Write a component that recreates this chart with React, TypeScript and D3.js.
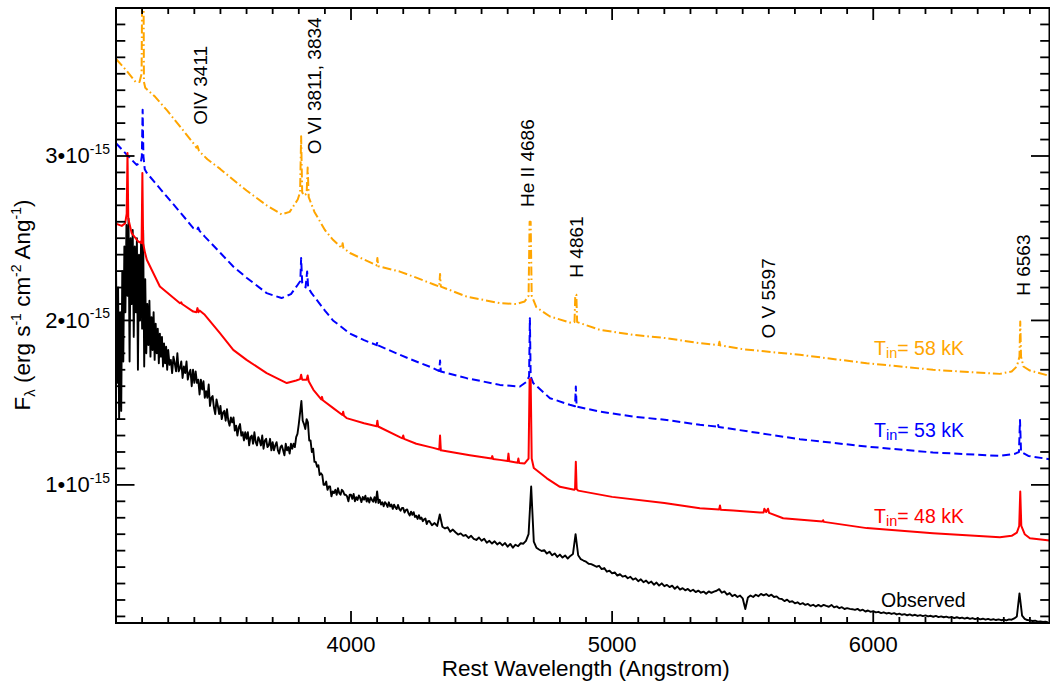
import React from 'react';
import * as d3 from 'd3';

// observed spectrum, flux in 1e-15 erg/s/cm2/A
// blue end (very noisy), 4 A grid from 3100 A
const obsBlueStart = 3100;
const obsBlueStep = 4;
const obsBlue = [
  2.35, 1.62, 2.2, 1.4, 2.05, 1.45, 2.3, 1.75, 2.45, 2.05,
  2.58, 2.15, 2.62, 1.75, 2.5, 2.1, 2.55, 1.9, 2.45, 2.05,
  2.5, 1.7, 2.4, 2.0, 2.48, 1.95, 2.55, 1.72, 2.25, 1.8,
  2.1, 1.85, 2.12, 1.78, 2.02, 1.82, 2.05, 1.76, 1.98, 1.8,
  1.95, 1.74, 1.92, 1.78, 1.9, 1.72, 1.86, 1.74, 1.84, 1.7,
];

// middle part, 5 A grid from 3300 A
const obsMidStart = 3300;
const obsMidStep = 5;
const obsMid = [
  1.82, 1.73, 1.76, 1.68, 1.78, 1.74, 1.69, 1.8, 1.69, 1.71,
  1.75, 1.65, 1.72, 1.68, 1.75, 1.64, 1.68, 1.7, 1.6, 1.7,
  1.62, 1.69, 1.62, 1.64, 1.55, 1.64, 1.58, 1.63, 1.53, 1.57,
  1.53, 1.61, 1.48, 1.53, 1.54, 1.47, 1.43, 1.52, 1.48, 1.43,
  1.48, 1.4, 1.44, 1.45, 1.39, 1.46, 1.39, 1.36, 1.41, 1.38,
  1.41, 1.33, 1.36, 1.3, 1.35, 1.37, 1.3, 1.32, 1.27, 1.32,
  1.28, 1.32, 1.24, 1.29, 1.3, 1.25, 1.32, 1.26, 1.24, 1.29,
  1.27, 1.24, 1.3, 1.22, 1.27, 1.28, 1.23, 1.24, 1.28, 1.21,
  1.26, 1.21, 1.24, 1.26, 1.21, 1.19, 1.23, 1.24, 1.21, 1.18,
  1.25, 1.21, 1.23, 1.19, 1.25, 1.22, 1.25, 1.23, 1.29, 1.31,
  1.37, 1.44, 1.51, 1.39, 1.37, 1.34, 1.4, 1.38, 1.27, 1.27,
  1.2, 1.22, 1.14, 1.14, 1.11, 1.12, 1.06, 1.07, 1.06, 1.0,
  1.0, 1.02, 0.97, 0.99, 0.99, 0.93, 0.96, 0.95, 0.97, 0.94,
  0.98, 0.95, 0.94, 0.97, 0.96, 0.94, 0.94, 0.93, 0.9, 0.94,
  0.94, 0.915, 0.945, 0.9, 0.925, 0.908, 0.936, 0.92, 0.895, 0.926,
  0.91, 0.934, 0.898, 0.92, 0.893, 0.923, 0.909, 0.898, 0.925, 0.893,
  0.96, 0.89, 0.909, 0.88, 0.894, 0.87, 0.895, 0.885, 0.866, 0.894,
  0.869, 0.88, 0.854, 0.88, 0.863, 0.853, 0.878, 0.854, 0.843, 0.859,
  0.859, 0.832, 0.847, 0.851, 0.827, 0.814, 0.837, 0.818, 0.834, 0.805,
  0.812, 0.793, 0.816, 0.793, 0.801, 0.779, 0.79, 0.795, 0.762, 0.779,
];

// red part, 10 A grid from 4300 A
const obsRedStart = 4300;
const obsRedStep = 10;
const obsRed = [
  0.78, 0.755, 0.768, 0.75, 0.82, 0.745, 0.735, 0.742, 0.715, 0.728,
  0.712, 0.698, 0.705, 0.69, 0.695, 0.677, 0.69, 0.672, 0.665, 0.68,
  0.66, 0.672, 0.648, 0.66, 0.643, 0.657, 0.638, 0.649, 0.632, 0.646,
  0.624, 0.641, 0.618, 0.636, 0.627, 0.645, 0.642, 0.66, 0.7, 0.99,
  0.655, 0.618, 0.607, 0.598, 0.603, 0.582, 0.594, 0.572, 0.583, 0.562,
  0.576, 0.558, 0.571, 0.552, 0.568, 0.58, 0.7, 0.572, 0.548, 0.54,
  0.533, 0.52, 0.518, 0.51, 0.502, 0.508, 0.488, 0.494, 0.472, 0.478,
  0.462, 0.468, 0.448, 0.457, 0.442, 0.447, 0.432, 0.441, 0.424, 0.432,
  0.414, 0.426, 0.408, 0.418, 0.402, 0.412, 0.393, 0.406, 0.388, 0.401,
  0.384, 0.392, 0.378, 0.387, 0.368, 0.382, 0.363, 0.372, 0.359, 0.367,
  0.353, 0.362, 0.348, 0.357, 0.344, 0.351, 0.338, 0.352, 0.343, 0.351,
  0.356, 0.366, 0.344, 0.352, 0.333, 0.342, 0.323, 0.332, 0.318, 0.327,
  0.31, 0.245, 0.315, 0.327, 0.318, 0.332, 0.323, 0.337, 0.328, 0.336,
  0.324, 0.332, 0.318, 0.322, 0.308, 0.306, 0.293, 0.302, 0.288, 0.292,
  0.28, 0.286, 0.274, 0.281, 0.27, 0.276, 0.264, 0.271, 0.26, 0.27,
  0.26, 0.27, 0.264, 0.259, 0.27, 0.255, 0.261, 0.25, 0.256, 0.245,
  0.25, 0.246, 0.244, 0.24, 0.246, 0.235, 0.241, 0.23, 0.236, 0.228,
  0.232, 0.225, 0.228, 0.22, 0.225, 0.218, 0.222, 0.215, 0.22, 0.212,
  0.217, 0.21, 0.214, 0.207, 0.212, 0.205, 0.21, 0.203, 0.208, 0.202,
  0.206, 0.2, 0.204, 0.198, 0.203, 0.196, 0.2, 0.195, 0.199, 0.193,
  0.197, 0.19, 0.195, 0.189, 0.193, 0.187, 0.192, 0.185, 0.19, 0.184,
  0.188, 0.182, 0.186, 0.18, 0.185, 0.179, 0.183, 0.178, 0.182, 0.177,
  0.181, 0.176, 0.182, 0.18, 0.188, 0.2, 0.34, 0.205, 0.185, 0.178,
  0.176, 0.172, 0.174, 0.168, 0.17, 0.166, 0.168, 0.164,
];

// model spectra [wavelength A, flux 1e-15]
const model58 = [
  [3100, 3.59], [3140, 3.52], [3175, 3.45], [3190, 3.45], [3198, 3.5], [3201, 4.2], [3205, 4.2],
  [3207, 3.45], [3212, 3.415], [3250, 3.36], [3294, 3.28], [3350, 3.17], [3400, 3.07], [3408, 3.05],
  [3412, 3.06], [3418, 3.03], [3450, 2.98], [3500, 2.92], [3549, 2.855], [3600, 2.79], [3677, 2.7],
  [3734, 2.645], [3765, 2.66], [3796, 2.735], [3805, 2.78], [3809, 3.12], [3813, 2.78], [3820, 2.76],
  [3830, 2.77], [3834, 2.93], [3838, 2.75], [3860, 2.66], [3900, 2.55], [3931, 2.49], [3965, 2.44],
  [3968, 2.47], [3971, 2.44], [3996, 2.41], [4050, 2.37], [4098, 2.335], [4101, 2.38], [4104, 2.33],
  [4187, 2.297], [4250, 2.26], [4315, 2.22], [4338, 2.206], [4341, 2.283], [4344, 2.206], [4443, 2.145],
  [4570, 2.105], [4634, 2.1], [4665, 2.115], [4680, 2.15], [4684, 2.6], [4688, 2.6], [4692, 2.15],
  [4710, 2.08], [4762, 2.024], [4838, 1.987], [4856, 1.99], [4859, 2.156], [4863, 2.156], [4866, 1.99],
  [4953, 1.943], [5081, 1.912], [5209, 1.892], [5336, 1.862], [5408, 1.85], [5411, 1.87], [5414, 1.848],
  [5500, 1.825], [5719, 1.791], [5975, 1.74], [6229, 1.7], [6485, 1.675], [6530, 1.69], [6550, 1.72],
  [6560, 1.78], [6563, 1.993], [6566, 1.78], [6575, 1.72], [6600, 1.695], [6675, 1.663],
];

const model53 = [
  [3100, 3.078], [3140, 3.01], [3179, 2.946], [3195, 2.96], [3199, 3.0], [3202, 3.281], [3205, 3.0],
  [3210, 2.92], [3218, 2.897], [3294, 2.754], [3350, 2.65], [3396, 2.561], [3410, 2.55], [3415, 2.565],
  [3420, 2.545], [3440, 2.51], [3500, 2.41], [3549, 2.328], [3600, 2.26], [3677, 2.166], [3734, 2.136],
  [3770, 2.16], [3796, 2.217], [3806, 2.24], [3809, 2.379], [3813, 2.23], [3826, 2.2], [3832, 2.297],
  [3836, 2.2], [3849, 2.166], [3900, 2.06], [3931, 2.0], [3996, 1.92], [4050, 1.88], [4098, 1.85],
  [4101, 1.87], [4104, 1.848], [4187, 1.791], [4250, 1.75], [4315, 1.71], [4338, 1.692], [4341, 1.756],
  [4344, 1.689], [4443, 1.649], [4570, 1.608], [4647, 1.598], [4673, 1.628], [4682, 1.66], [4685, 2.014],
  [4688, 1.66], [4698, 1.619], [4762, 1.527], [4838, 1.487], [4858, 1.478], [4861, 1.598], [4864, 1.476],
  [4953, 1.446], [5081, 1.415], [5209, 1.395], [5336, 1.365], [5402, 1.355], [5405, 1.37], [5408, 1.352],
  [5719, 1.278], [5975, 1.233], [6229, 1.197], [6485, 1.176], [6542, 1.189], [6558, 1.2], [6562, 1.395],
  [6566, 1.2], [6594, 1.176], [6675, 1.156],
];

const model48 = [
  [3100, 2.588], [3122, 2.575], [3135, 2.59], [3141, 2.65], [3144, 3.018], [3147, 2.62], [3160, 2.531],
  [3185, 2.48], [3198, 2.47], [3201, 2.896], [3204, 2.47], [3210, 2.42], [3218, 2.369], [3268, 2.206],
  [3345, 2.105], [3350, 2.11], [3353, 2.1], [3396, 2.054], [3408, 2.05], [3412, 2.075], [3416, 2.05],
  [3420, 2.06], [3440, 2.034], [3498, 1.923], [3549, 1.821], [3600, 1.76], [3677, 1.68], [3754, 1.619],
  [3790, 1.635], [3805, 1.643], [3809, 1.67], [3813, 1.64], [3830, 1.64], [3834, 1.665], [3838, 1.63],
  [3856, 1.578], [3886, 1.52], [3889, 1.535], [3892, 1.515], [3932, 1.467], [3967, 1.425], [3970, 1.445],
  [3973, 1.42], [3983, 1.406], [4050, 1.375], [4098, 1.357], [4101, 1.39], [4104, 1.355], [4187, 1.29],
  [4197, 1.283], [4200, 1.3], [4203, 1.28], [4250, 1.25], [4315, 1.225], [4338, 1.215], [4341, 1.3],
  [4344, 1.21], [4455, 1.18], [4538, 1.16], [4541, 1.175], [4544, 1.158], [4570, 1.152], [4600, 1.145],
  [4603, 1.19], [4606, 1.143], [4638, 1.135], [4641, 1.16], [4644, 1.133], [4665, 1.13], [4680, 1.16],
  [4684, 1.643], [4688, 1.643], [4692, 1.16], [4700, 1.103], [4750, 1.04], [4800, 0.988], [4855, 0.97],
  [4858, 0.975], [4861, 1.14], [4864, 0.975], [4870, 0.965], [5000, 0.927], [5200, 0.89], [5336, 0.858],
  [5410, 0.85], [5413, 0.875], [5416, 0.848], [5464, 0.844], [5566, 0.832], [5580, 0.832], [5583, 0.855],
  [5590, 0.835], [5597, 0.855], [5601, 0.83], [5655, 0.797], [5805, 0.777], [5808, 0.785], [5811, 0.775],
  [5975, 0.737], [6229, 0.706], [6485, 0.682], [6530, 0.69], [6550, 0.71], [6559, 0.75], [6563, 0.959],
  [6567, 0.75], [6580, 0.7], [6600, 0.675], [6675, 0.661],
];

const xTickLabels = [4000, 5000, 6000];
const yTickLabels = [1, 2, 3];

// line identifications: label, anchor wavelength and flux (bottom end of the rotated text)
const lineIds = [
  { text: 'OIV 3411', wave: 3448, flux: 3.19 },
  { text: 'O VI 3811, 3834', wave: 3885, flux: 3.01 },
  { text: 'He II 4686', wave: 4701, flux: 2.69 },
  { text: 'H 4861', wave: 4888, flux: 2.26 },
  { text: 'O V 5597', wave: 5624, flux: 1.89 },
  { text: 'H 6563', wave: 6600, flux: 2.15 },
];

const modelTemps = ['58 kK', '53 kK', '48 kK'];
const modelLabelWave = 6003;
const modelLabelFlux = [1.79, 1.291, 0.768];
const obsLabel = { text: 'Observed', wave: 6030, flux: 0.257 };

const ORANGE = '#ffa500';
const BLUE = '#0000ff';
const RED = '#ff0000';
const FONT = '"Liberation Sans", Arial, Helvetica, sans-serif';

export default function App() {
  const left = 116, right = 1049.5, top = 8, bottom = 623;
  const x = d3.scaleLinear().domain([3100, 6675]).range([left, right]);
  const y = d3.scaleLinear().domain([0.16, 3.9]).range([bottom, top]);
  const line = d3.line<number[]>().x(d => x(d[0])).y(d => y(d[1]));

  const observed = [
    ...obsBlue.map((f, i) => [obsBlueStart + i * obsBlueStep, f]),
    ...obsMid.map((f, i) => [obsMidStart + i * obsMidStep, f]),
    ...obsRed.map((f, i) => [obsRedStart + i * obsRedStep, f]),
  ];

  const xMinor = d3.range(3200, 6700, 100).filter(v => v % 1000 !== 0);
  const yMinor = d3.range(2, 40).map(v => v / 10).filter(v => Math.abs(v - Math.round(v)) > 0.01);
  const xMajLen = 12, xMinLen = 6, yMajLen = 18.5, yMinLen = 9.3;

  const models = [
    { data: model58, color: ORANGE, dash: '9 3 1.6 3' },
    { data: model53, color: BLUE, dash: '8 4' },
    { data: model48, color: RED, dash: undefined },
  ];

  return (
    <div style={{ position: 'absolute', left: 0, top: 0 }}>
      <svg width={1050} height={687} style={{ display: 'block', background: '#fff' }} fontFamily={FONT}>
        <defs>
          <clipPath id="plotclip">
            <rect x={left} y={top} width={right - left} height={bottom - top} />
          </clipPath>
        </defs>

        <g clipPath="url(#plotclip)" fill="none" strokeLinejoin="round">
          <path d={line(observed) || ''} stroke="#000" strokeWidth={1.9} />
          {models.map((m, i) => (
            <path key={i} d={line(m.data) || ''} stroke={m.color} strokeWidth={2} strokeDasharray={m.dash} />
          ))}
        </g>

        {/* frame */}
        <rect x={left} y={top} width={right - left} height={bottom - top} fill="none" stroke="#000" strokeWidth={2} />

        {/* ticks on all four sides */}
        <g stroke="#000" strokeWidth={1.8}>
          {xTickLabels.map(v => (
            <g key={'xm' + v}>
              <line x1={x(v)} x2={x(v)} y1={bottom} y2={bottom - xMajLen} />
              <line x1={x(v)} x2={x(v)} y1={top} y2={top + xMajLen} />
            </g>
          ))}
          {xMinor.map(v => (
            <g key={'xn' + v}>
              <line x1={x(v)} x2={x(v)} y1={bottom} y2={bottom - xMinLen} />
              <line x1={x(v)} x2={x(v)} y1={top} y2={top + xMinLen} />
            </g>
          ))}
          {yTickLabels.map(v => (
            <g key={'ym' + v}>
              <line x1={left} x2={left + yMajLen} y1={y(v)} y2={y(v)} />
              <line x1={right} x2={right - yMajLen} y1={y(v)} y2={y(v)} />
            </g>
          ))}
          {yMinor.map(v => (
            <g key={'yn' + v}>
              <line x1={left} x2={left + yMinLen} y1={y(v)} y2={y(v)} />
              <line x1={right} x2={right - yMinLen} y1={y(v)} y2={y(v)} />
            </g>
          ))}
        </g>

        {/* tick labels */}
        <g fontSize={22} fill="#000">
          {xTickLabels.map(v => (
            <text key={'xl' + v} x={x(v)} y={652} textAnchor="middle">{v}</text>
          ))}
          {yTickLabels.map(v => (
            <text key={'yl' + v} x={110} y={y(v) + 7.5} textAnchor="end">
              {v}•10<tspan fontSize={14} dy={-9.5}>-15</tspan>
            </text>
          ))}
        </g>

        {/* axis titles */}
        <text x={(left + right) / 2 + 3} y={676} textAnchor="middle" fontSize={22.5}>Rest Wavelength (Angstrom)</text>
        <text transform={`translate(30,${305}) rotate(-90)`} textAnchor="middle" fontSize={22.5}>
          F<tspan fontSize={15} dy={5}>λ</tspan>
          <tspan dy={-5}> (erg s</tspan><tspan fontSize={14} dy={-9}>-1</tspan>
          <tspan dy={9}> cm</tspan><tspan fontSize={14} dy={-9}>-2</tspan>
          <tspan dy={9}> Ang</tspan><tspan fontSize={14} dy={-9}>-1</tspan>
          <tspan dy={9}>)</tspan>
        </text>

        {/* line identifications */}
        <g fontSize={19} fill="#000">
          {lineIds.map(l => (
            <text key={l.text} transform={`translate(${x(l.wave)},${y(l.flux)}) rotate(-90)`}>{l.text}</text>
          ))}
        </g>

        {/* model labels */}
        {modelTemps.map((t, i) => (
          <text key={t} x={x(modelLabelWave)} y={y(modelLabelFlux[i])} fontSize={19.5} fill={models[i].color}>
            T<tspan fontSize={14.5} dy={3}>in</tspan><tspan dy={-3}>= {t}</tspan>
          </text>
        ))}
        <text x={x(obsLabel.wave)} y={y(obsLabel.flux)} fontSize={19.5} fill="#000">{obsLabel.text}</text>
      </svg>
    </div>
  );
}
